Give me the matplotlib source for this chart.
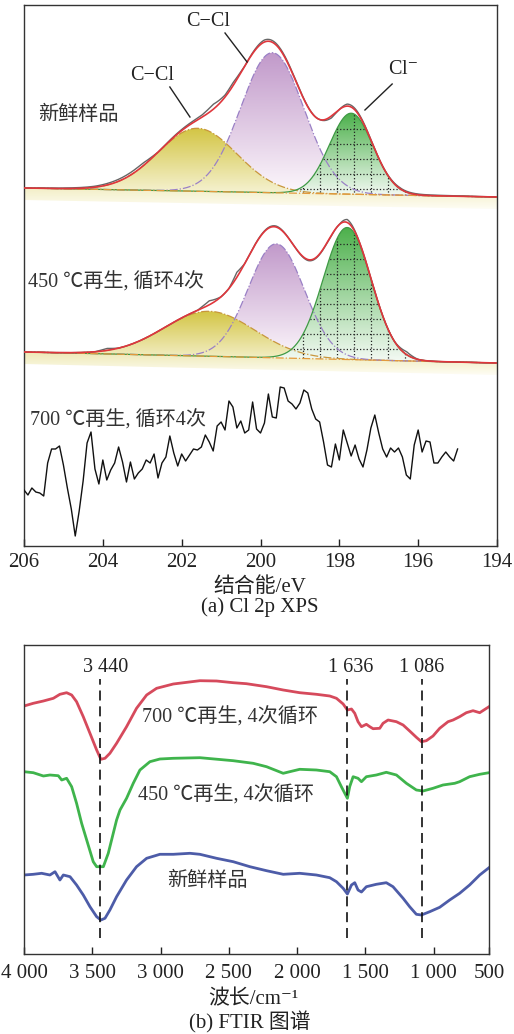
import numpy as np
import matplotlib
matplotlib.use("Agg")
import matplotlib.pyplot as plt
from matplotlib.colors import LinearSegmentedColormap

plt.rcParams['font.family'] = ['Liberation Serif', 'Noto Sans CJK SC', 'DejaVu Serif']
plt.rcParams['mathtext.fontset'] = 'stix'
plt.rcParams['axes.unicode_minus'] = True

# ---------------- (a) Cl 2p XPS data ----------------
# fitted components: centre (eV), height (a.u.), sigma (eV) -> C-Cl, C-Cl, Cl-
fresh_center = [201.6, 199.7, 197.7]
fresh_height = [63, 140, 81]
fresh_sigma = [1.0, 0.8, 0.55]
fresh_bg = [358, 349]          # background at 206 eV and 194 eV

r450_center = [201.3, 199.6, 197.8]
r450_height = [45, 114, 132]
r450_sigma = [1.15, 0.71, 0.61]
r450_bg = [194, 183]

# raw-minus-envelope deviations
fresh_res_be = [206, 204.2, 203.6, 203.0, 202.6, 201.5, 201.2, 200.9, 200.7, 200.4,
                199.9, 198.5, 198.2, 197.8, 197.0, 196.5, 194]
fresh_res = [0, 1, 2, 3, 0, 2, 5, 2, 3, 0, 2, 0, -2, 2, 0, 1, 0]
r450_res_be = [206, 204.2, 203.9, 203.6, 201.6, 201.3, 201.0, 200.8, 200.6, 200.4,
               199.6, 198.8, 198.0, 197.8, 197.5, 196.6, 196.3, 196.0, 194]
r450_res = [0, 0, 2, 0, 0, 4, 0, 0, 5, 0, 1, -1, 0, 3, 0, 0, 3, 0, 0]

# 700 C regenerated spectrum, 206.0 -> 195.0 eV in 0.1 eV steps
r700_be = np.round(np.arange(206.0, 194.95, -0.1), 1)
r700 = [56, 51, 58, 54, 53, 50, 83, 97, 97, 100, 81, 58, 37, 10, 35, 65, 103, 114, 77, 62,
        86, 66, 76, 83, 99, 84, 64, 84, 67, 73, 77, 86, 83, 92, 68, 83, 89, 110, 93, 80,
        92, 85, 91, 97, 96, 99, 111, 104, 95, 120, 124, 116, 145, 139, 118, 125, 113, 116, 144, 117,
        113, 123, 152, 129, 128, 159, 158, 145, 142, 137, 143, 156, 153, 137, 127, 124, 104, 81, 79, 102,
        86, 116, 103, 90, 101, 87, 79, 96, 118, 131, 113, 97, 89, 98, 94, 98, 89, 71, 67, 101,
        116, 94, 105, 104, 83, 83, 89, 94, 89, 85, 97]

# ---------------- (b) FTIR data ----------------
red_wn = [4000, 3932, 3858, 3785, 3737, 3688, 3651, 3615, 3566, 3517, 3468, 3437, 3407, 3371,
          3322, 3249, 3176, 3102, 3029, 2907, 2712, 2590, 2468, 2371, 2224, 2102, 1981, 1859,
          1761, 1712, 1663, 1632, 1602, 1578, 1554, 1529, 1493, 1468, 1444, 1395, 1371, 1334,
          1273, 1224, 1176, 1127, 1090, 1054, 1005, 956, 895, 858, 810, 761, 712, 663, 595]
red_val = [248, 250.7, 253, 255.7, 259.7, 261.3, 259, 252.3, 237.3, 220.7, 204, 194.7, 195.7, 200.7,
           210.7, 227.3, 245.7, 259, 265.7, 270, 273.3, 273, 271.3, 270.3, 267.3, 264, 261.3, 259.7,
           258, 255.7, 250, 244, 245, 240.7, 232.3, 227.3, 229.7, 227.3, 225.3, 225.7, 230.7, 234,
           232.3, 229, 223, 216.7, 212.3, 213.3, 218, 225.7, 232.3, 234, 237.3, 241.3, 243.3, 241.3, 247.3]

green_wn = [4000, 3932, 3858, 3810, 3749, 3724, 3688, 3651, 3615, 3578, 3541, 3493, 3468, 3419,
            3383, 3322, 3297, 3249, 3200, 3151, 3078, 3005, 2907, 2712, 2468, 2322, 2224, 2102,
            2054, 1981, 1859, 1761, 1712, 1676, 1651, 1632, 1615, 1590, 1554, 1529, 1493, 1420,
            1347, 1273, 1200, 1127, 1078, 1005, 932, 846, 810, 737, 663, 595]
green_val = [182.3, 181.3, 178, 179, 178.3, 174, 175.7, 167.3, 150.7, 130.7, 114, 92.3, 87.3, 87.3,
             100.7, 134, 144, 155.7, 170.7, 184, 192.3, 195, 195.7, 196.3, 193.3, 190.7, 187.3, 180.7,
             182.3, 184.7, 184, 182.3, 177.3, 167.3, 160.7, 155.7, 167.3, 177.3, 175.7, 172.3, 177.3, 179,
             181.7, 179, 170.7, 164, 163, 165.7, 169, 170.7, 172.3, 177.3, 179.7, 181.3]

blue_wn = [4000, 3932, 3871, 3810, 3773, 3737, 3712, 3663, 3615, 3566, 3517, 3468, 3437, 3407,
           3371, 3322, 3249, 3176, 3102, 3005, 2907, 2785, 2712, 2590, 2468, 2346, 2224, 2102,
           1981, 1859, 1761, 1712, 1663, 1632, 1602, 1578, 1554, 1529, 1493, 1420, 1347, 1298,
           1224, 1176, 1127, 1090, 1029, 956, 883, 810, 737, 663, 595]
blue_val = [79, 79.7, 80.7, 79, 82.3, 74, 79, 77.3, 69, 59, 47.3, 37.3, 34, 35.7,
            44, 57.3, 74, 87.3, 95.7, 99.7, 99.7, 100.7, 99.7, 95.7, 92.3, 87.3, 83.3, 79.7,
            80.7, 79, 76.3, 72.3, 65.7, 60, 69, 71.3, 64, 62, 67.3, 69.7, 71.3, 67.3,
            55.7, 47.3, 39.7, 39, 42.3, 46.7, 54, 60.7, 69, 79, 86.3]

peak_wn = [3440, 1636, 1086]
peak_lbl = ['3 440', '1 636', '1 086']


def grad_fill(ax, x, top, floor, c_top, c_bot, z):
    poly = ax.fill_between(x, floor, top, facecolor='none', edgecolor='none')
    cmap = LinearSegmentedColormap.from_list('g', [c_bot, c_top])
    grad = np.linspace(0, 1, 256).reshape(-1, 1)
    im = ax.imshow(grad, cmap=cmap, aspect='auto', origin='lower', interpolation='bilinear',
                   extent=(x.min(), x.max(), np.min(floor), np.max(top)), zorder=z)
    im.set_clip_path(poly.get_paths()[0], transform=ax.transData)
    return poly


def draw_fit(ax, centers, heights, sigmas, bg_ends, res_be, res):
    be = np.linspace(206, 194, 1201)
    bg = np.interp(be, [194, 206], bg_ends[::-1])
    comps = [h * np.exp(-(be - c) ** 2 / (2 * s ** 2)) for c, h, s in zip(centers, heights, sigmas)]
    env = bg + sum(comps)
    styles = [  # colour top, colour bottom, outline, linestyle, floor offset, z
        ('#d3c544', '#fefdf4', '#c8963c', '-.', 12, 2),
        ('#c199ca', '#fefafd', '#9a80c6', '-.', 0, 1),
        ('#4cb04b', '#f6fbf6', '#3f9a45', '-', 0, 3),
    ]
    for comp, (ct, cb, oc, ls, fo, z) in zip(comps, styles):
        grad_fill(ax, be, bg + comp, bg - fo, ct, cb, z)
        ax.plot(be, bg + comp, color=oc, ls=ls, lw=0.9, zorder=4)
    # dotted grid inside the Cl- component
    clip = ax.fill_between(be, bg, bg + comps[2], facecolor='none', edgecolor='none')
    top = (bg + comps[2]).max()
    for xv in np.arange(198.92, 195.5, -0.43):
        ln, = ax.plot([xv, xv], [bg.min() - 5, top], color='#222222', ls=':', lw=0.9, zorder=3.5)
        ln.set_clip_path(clip.get_paths()[0], transform=ax.transData)
    for yv in np.arange(top - 16, bg.min() - 5, -15):
        ln, = ax.plot([199.5, 195.0], [yv, yv], color='#222222', ls=':', lw=0.9, zorder=3.5)
        ln.set_clip_path(clip.get_paths()[0], transform=ax.transData)
    ax.plot(be, bg, color='#e39a3c', ls='-.', lw=0.9, zorder=4)
    raw = env + np.interp(be[::-1], res_be[::-1], res[::-1])[::-1]
    ax.plot(be, raw, color='#666666', lw=1.0, zorder=5)
    ax.plot(be, env, color='#e0363c', lw=1.2, zorder=6)


fig = plt.figure(figsize=(5.14, 10.34), dpi=100)
ax1 = fig.add_axes([24 / 514, 1 - 546 / 1034, 473 / 514, 541 / 1034])
ax2 = fig.add_axes([24 / 514, 1 - 954 / 1034, 465 / 514, 309 / 1034])

# ---- panel a ----
draw_fit(ax1, fresh_center, fresh_height, fresh_sigma, fresh_bg, fresh_res_be, fresh_res)
draw_fit(ax1, r450_center, r450_height, r450_sigma, r450_bg, r450_res_be, r450_res)
ax1.plot(r700_be, r700, color='#111111', lw=1.0, zorder=6)

tc = '#333333'
ax1.text(205.64, 431, '新鲜样品', fontsize=14.5, va='center', ha='left', color=tc)
ax1.text(205.9, 264, '450 ℃再生, 循环4次', fontsize=14.5, va='center', ha='left', color=tc)
ax1.text(205.85, 126, '700 ℃再生, 循环4次', fontsize=14.5, va='center', ha='left', color=tc)
ax1.text(201.34, 524, 'C−Cl', fontsize=14.5, ha='center', va='center', color='#222222')
ax1.plot([200.90, 200.34], [513, 484], color='#222222', lw=1.0, zorder=7)
ax1.text(202.76, 471, 'C−Cl', fontsize=14.5, ha='center', va='center', color='#222222')
ax1.plot([202.30, 201.79], [459, 429], color='#222222', lw=1.0, zorder=7)
ax1.text(196.39, 476, r'Cl$^{-}$', fontsize=14.5, ha='center', va='center', color='#222222')
ax1.plot([196.66, 197.35], [462, 436], color='#222222', lw=1.0, zorder=7)

ax1.set_xlim(206, 194)
ax1.set_ylim(0, 541)
ax1.set_xticks([206, 204, 202, 200, 198, 196, 194])
ax1.set_yticks([])

# ---- panel b ----
ax2.plot(red_wn, red_val, color='#d64a5c', lw=2.0)
ax2.plot(green_wn, green_val, color='#3fb44c', lw=2.0)
ax2.plot(blue_wn, blue_val, color='#4d5ca8', lw=2.0)
ax2.vlines(peak_wn, 16, 275, colors='#111111', linestyles=(0, (6, 3.5)), lw=1.2)
for w, lbl, dx in zip(peak_wn, peak_lbl, [-40, -30, 0]):
    ax2.text(w + dx, 287, lbl, fontsize=14.5, ha='center', va='center', color='#222222')
ax2.text(3139, 237, '700 ℃再生, 4次循环', fontsize=14.5, va='center', ha='left', color=tc)
ax2.text(3163, 159, '450 ℃再生, 4次循环', fontsize=14.5, va='center', ha='left', color=tc)
ax2.text(2658, 73, '新鲜样品', fontsize=14.5, va='center', ha='center', color=tc)

ax2.set_xlim(4000, 595)
ax2.set_ylim(0, 309)
ax2.set_xticks([4000, 3500, 3000, 2500, 2000, 1500, 1000, 595])
ax2.set_xticklabels(['4 000', '3 500', '3 000', '2 500', '2 000', '1 500', '1 000', '500'])
ax2.set_yticks([])

for ax, pad in [(ax1, 5), (ax2, 7)]:
    ax.tick_params(axis='x', direction='in', length=5, width=1, labelsize=15, pad=pad,
                   colors='#222222')
    for s in ax.spines.values():
        s.set_linewidth(1.0)
        s.set_color('#333333')

fig.text(260 / 514, 1 - 587 / 1034, '结合能/eV', fontsize=15, ha='center', va='center', color='#222222')
fig.text(260 / 514, 1 - 607 / 1034, '(a) Cl 2p XPS', fontsize=15, ha='center', va='center', color='#222222')
fig.text(253 / 514, 1 - 1000 / 1034, '波长/cm⁻¹', fontsize=15, ha='center', va='center', color='#222222')
fig.text(250 / 514, 1 - 1022 / 1034, '(b) FTIR 图谱', fontsize=15, ha='center', va='center', color='#222222')

fig.savefig('out.png', dpi=100)
